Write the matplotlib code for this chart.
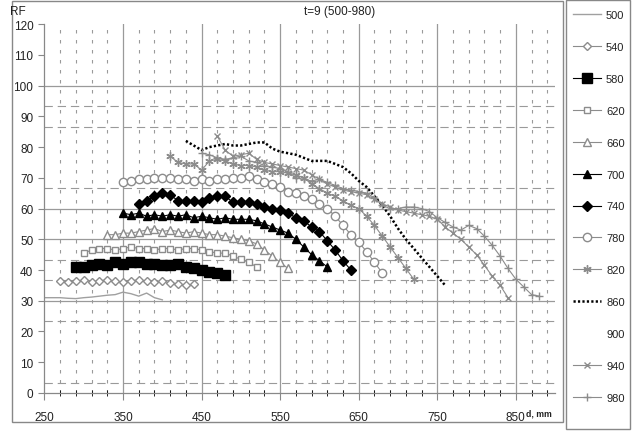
import matplotlib
matplotlib.use("Agg")
import matplotlib.pyplot as plt
from matplotlib.patches import Rectangle
import numpy as np

plt.rcParams['font.family'] = ['Liberation Sans', 'DejaVu Sans']
plt.rcParams['lines.scale_dashes'] = False

# each series: first d value (mm), readings every 10 mm
start_500 = 250
rf_500 = [31, 31, 31, 30.8, 30.7, 31, 31.2, 31.5, 31.8, 32, 32.8, 32.3, 31.5, 32.5, 31, 30.3]
start_540 = 270
rf_540 = [36.5, 36, 36.3, 36.8, 36.2, 36.5, 36.8, 36.4, 36, 36.5, 36.8, 36.3, 36, 36.5, 35.8, 35.5, 35, 35.3]
start_580 = 290
rf_580 = [41, 41, 41.5, 42, 41.5, 42.5, 42, 42.5, 42.5, 42, 42, 41.5, 41.5, 42, 41, 40.5, 40, 39.5, 39, 38.5]
start_620 = 300
rf_620 = [45.5, 46.5, 47, 47, 46.5, 47, 47.5, 47, 47, 46.5, 47, 47, 46.5, 47, 47, 46.5, 46, 45.5, 45.5,
          44.5, 43.5, 42.5, 41]
start_660 = 330
rf_660 = [51.5, 51.5, 52, 52, 52.5, 53, 53.5, 52.5, 53, 52.5, 52, 52.5, 52, 51.5, 51.5, 51, 50.5, 50,
          49.5, 48.5, 46.5, 44.5, 42.5, 40.5]
start_700 = 350
rf_700 = [58.5, 58, 58.5, 57.5, 58, 57.5, 58, 57.5, 58, 57, 57.5, 57, 56.5, 57, 56.5, 56.5, 56.5, 56,
          55, 54, 53, 52, 50, 47.5, 45, 43, 41]
start_740 = 370
rf_740 = [61.5, 62.5, 64, 65, 64.5, 62.5, 62.5, 62.5, 62, 63.5, 64, 64, 62, 62, 62, 61.5, 60.5, 60,
          59.5, 58.5, 57, 56, 54, 52.5, 49.5, 46.5, 43, 40]
start_780 = 350
rf_780 = [68.5, 69, 69.5, 69.5, 70, 70, 70, 69.5, 69.5, 69, 69.5, 69, 69.5, 69.5, 70, 70, 70.5, 69.5,
          68.5, 68, 67, 65.5, 65, 64, 63, 61.5, 60, 57.5, 54.5, 51.5, 49, 46, 42.5, 39]
start_820 = 410
rf_820 = [77, 75, 74.5, 74.5, 72.5, 75.5, 76, 75.5, 74.5, 74, 74, 73.5, 72.5, 72, 72, 71.5, 71, 70,
          68, 66.5, 65, 64, 62.5, 61, 60, 57.5, 54.5, 51, 47.5, 44, 40.5, 37]
start_860 = 430
rf_860 = [82, 80.5, 79, 80, 80.5, 81, 80.5, 80.5, 81, 81.5, 81.5, 79.5, 78.5, 78, 77.5, 76.5, 75.5,
          75.5, 75.5, 74.5, 73.5, 71.5, 69, 67, 64, 61, 57.5, 53.5, 50, 47, 44, 41, 38, 35]
rf_900 = []
start_940 = 470
rf_940 = [83.5, 79, 77, 77.5, 78, 76, 75, 74.5, 74, 73.5, 73, 72.5, 71, 69.5, 68, 67, 66, 65.5, 65,
          64.5, 63, 61.5, 60.5, 59.5, 59, 58.5, 58, 57.5, 56.5, 54, 52, 50, 47.5, 45, 41.5, 38, 35, 31]
start_980 = 450
rf_980 = [78, 77.5, 76.5, 76, 76.5, 77, 75.5, 75, 74, 73.5, 73, 72, 70, 69.5, 69, 69.5, 68.5, 67.5,
          66.5, 66, 65.5, 65, 63.5, 61, 60, 60, 60.5, 60.5, 60, 59, 57, 55.5, 54, 53, 54.5, 53.5, 51,
          48, 44.5, 40.5, 37, 34.5, 32, 31.5]

labels = ['500', '540', '580', '620', '660', '700', '740', '780', '820', '860', '900', '940', '980']
starts = [start_500, start_540, start_580, start_620, start_660, start_700, start_740, start_780,
          start_820, start_860, 0, start_940, start_980]
values = [rf_500, rf_540, rf_580, rf_620, rf_660, rf_700, rf_740, rf_780, rf_820, rf_860, rf_900,
          rf_940, rf_980]

grey = '#8c8c8c'
styles = [
    dict(color='#a0a0a0', lw=1.0),
    dict(color=grey, lw=0.8, marker='D', ms=4, mfc='white', mec=grey),
    dict(color='black', lw=0.8, marker='s', ms=6.5, mfc='black', mec='black'),
    dict(color=grey, lw=0.8, marker='s', ms=5, mfc='white', mec=grey),
    dict(color=grey, lw=0.8, marker='^', ms=5.5, mfc='white', mec=grey),
    dict(color='black', lw=0.8, marker='^', ms=6, mfc='black', mec='black'),
    dict(color='black', lw=0.8, marker='D', ms=5, mfc='black', mec='black'),
    dict(color=grey, lw=0.8, marker='o', ms=6, mfc='white', mec=grey),
    dict(color=grey, lw=0.8, marker=(6, 2, 0), ms=6, mec=grey),
    dict(color='black', lw=1.8, ls=(0, (1.6, 1.6))),
    dict(color='white', lw=0, ls='none'),
    dict(color=grey, lw=0.8, marker='x', ms=5, mec=grey),
    dict(color=grey, lw=0.8, marker='+', ms=6, mec=grey),
]

fig = plt.figure(figsize=(6.32, 4.35), dpi=100)
ax = fig.add_axes([0.0704, 0.0943, 0.808, 0.848])

# gridlines
for x in range(270, 900, 20):
    if (x - 250) % 100 != 0:
        ax.axvline(x, color='#9a9a9a', lw=0.8, ls=(0, (2.5, 4.7)), zorder=0)
for x in [350, 450, 550, 650, 750, 850]:
    ax.axvline(x, color='#9a9a9a', lw=0.9, zorder=0)
for y in [30, 50, 60, 100]:
    ax.axhline(y, color='#9a9a9a', lw=0.9, zorder=0)
for y in [10 / 3, 70 / 3, 110 / 3, 130 / 3, 200 / 3, 260 / 3, 280 / 3]:
    ax.axhline(y, color='#9a9a9a', lw=0.8, ls=(0, (6, 3.5)), zorder=0)

handles = []
for lab, s, v, st in zip(labels, starts, values, styles):
    x = np.arange(len(v)) * 10 + s
    h, = ax.plot(x, v, label=lab, **st)
    handles.append(h)

ax.set_xlim(250, 900)
ax.set_ylim(0, 120)
ax.set_xticks([250, 350, 450, 550, 650, 750, 850])
ax.set_xticks(range(270, 900, 20), minor=True)
ax.set_yticks(range(0, 121, 10))
ax.tick_params(axis='both', labelsize=8.5, colors='#888888', labelcolor='#222222', width=0.8)
ax.tick_params(axis='x', which='major', direction='out', length=5, pad=8)
ax.tick_params(axis='x', which='minor', direction='inout', length=5)
ax.tick_params(axis='y', direction='out', length=4, pad=4)
for side in ['top', 'right']:
    ax.spines[side].set_visible(False)
for side in ['left', 'bottom']:
    ax.spines[side].set_color('#888888')
    ax.spines[side].set_linewidth(0.9)

fig.text(0.538, 0.972, 't=9 (500-980)', ha='center', va='center', fontsize=8.5, color='#222222')
fig.text(0.016, 0.972, 'RF', ha='left', va='center', fontsize=8.5, color='#222222')
fig.text(0.853, 0.049, 'd, mm', ha='center', va='center', fontsize=6.3, fontweight='bold',
         color='#222222')

# frames around chart area and legend
fig.patches.append(Rectangle((0.019, 0.028), 0.872, 0.967, transform=fig.transFigure,
                             fill=False, edgecolor='#888888', lw=1.0))
fig.patches.append(Rectangle((0.896, 0.011), 0.101, 0.987, transform=fig.transFigure,
                             fill=False, edgecolor='#888888', lw=1.0))

fig.legend(handles, labels, loc='upper left', bbox_to_anchor=(0.893, 0.995), frameon=False,
           fontsize=8, labelspacing=1.97, handlelength=2.5, handletextpad=0.45,
           borderpad=0.3, labelcolor='#222222')

fig.savefig('out.png', dpi=100)
